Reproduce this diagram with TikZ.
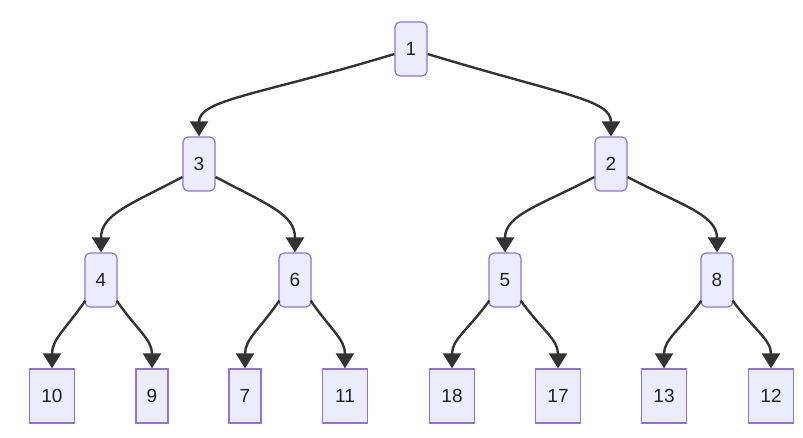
\documentclass[tikz,border=0pt]{standalone}
\usepackage{fontspec}
\setmainfont{Liberation Sans}
\usetikzlibrary{arrows.meta,calc}
\definecolor{nfill}{HTML}{ECECFF}
\definecolor{nborder}{HTML}{9370DB}
\definecolor{edgec}{HTML}{333333}
\definecolor{textc}{HTML}{222222}
\begin{document}
\begin{tikzpicture}[x=1pt,y=-1pt,
  inner/.style={draw=nborder,fill=nfill,line width=1.2pt,rounded corners=5pt,
    minimum width=32pt,minimum height=54pt,inner sep=0pt,
    font=\fontsize{19}{22}\selectfont,text=textc},
  leaf/.style={draw=nborder,fill=nfill,line width=1.2pt,
    minimum width=45pt,minimum height=54pt,inner sep=0pt,
    font=\fontsize{19}{22}\selectfont,text=textc},
  leafn/.style={leaf,minimum width=32pt},
  edge/.style={draw=edgec,line width=2.4pt,-{Triangle[width=18pt,length=15pt]}}]
\useasboundingbox[fill=white] (0,0) rectangle (803,437);
% nodes
\node[inner] (n1) at (411,49) {1};
\node[inner] (n3) at (199,164) {3};
\node[inner] (n2) at (611,164) {2};
\node[inner] (n4) at (101,280) {4};
\node[inner] (n6) at (295,280) {6};
\node[inner] (n5) at (505,280) {5};
\node[inner] (n8) at (717,280) {8};
\node[leaf] (n10) at (52,396) {10};
\node[leafn] (n9) at (152,396) {9};
\node[leafn] (n7) at (245,396) {7};
\node[leaf] (n11) at (345,396) {11};
\node[leaf] (n18) at (452,396) {18};
\node[leaf] (n17) at (558,396) {17};
\node[leaf] (n13) at (664,396) {13};
\node[leaf] (n12) at (771,396) {12};
% edges level 1
\draw[edge] ($(n1.west)+(0,5)$) .. controls +(-135,41) and +(0,-37) .. (n3.north);
\draw[edge] ($(n1.east)+(0,5)$) .. controls +(135,41) and +(0,-37) .. (n2.north);
% edges level 2
\draw[edge] ($(n3.west)+(0,13)$) .. controls +(-53,28) and +(0,-38) .. (n4.north);
\draw[edge] ($(n3.east)+(0,13)$) .. controls +(53,28) and +(0,-38) .. (n6.north);
\draw[edge] ($(n2.west)+(0,13)$) .. controls +(-53,28) and +(0,-38) .. (n5.north);
\draw[edge] ($(n2.east)+(0,13)$) .. controls +(53,28) and +(0,-38) .. (n8.north);
% edges level 3
\draw[edge] ($(n4.south west)+(1,-7)$) .. controls +(-21,30) and +(0,-29) .. (n10.north);
\draw[edge] ($(n4.south east)+(-1,-7)$) .. controls +(21,30) and +(0,-29) .. (n9.north);
\draw[edge] ($(n6.south west)+(1,-7)$) .. controls +(-21,30) and +(0,-29) .. (n7.north);
\draw[edge] ($(n6.south east)+(-1,-7)$) .. controls +(21,30) and +(0,-29) .. (n11.north);
\draw[edge] ($(n5.south west)+(1,-7)$) .. controls +(-22,30) and +(0,-29) .. (n18.north);
\draw[edge] ($(n5.south east)+(-1,-7)$) .. controls +(22,30) and +(0,-29) .. (n17.north);
\draw[edge] ($(n8.south west)+(1,-7)$) .. controls +(-22,30) and +(0,-29) .. (n13.north);
\draw[edge] ($(n8.south east)+(-1,-7)$) .. controls +(22,30) and +(0,-29) .. (n12.north);
\end{tikzpicture}
\end{document}
